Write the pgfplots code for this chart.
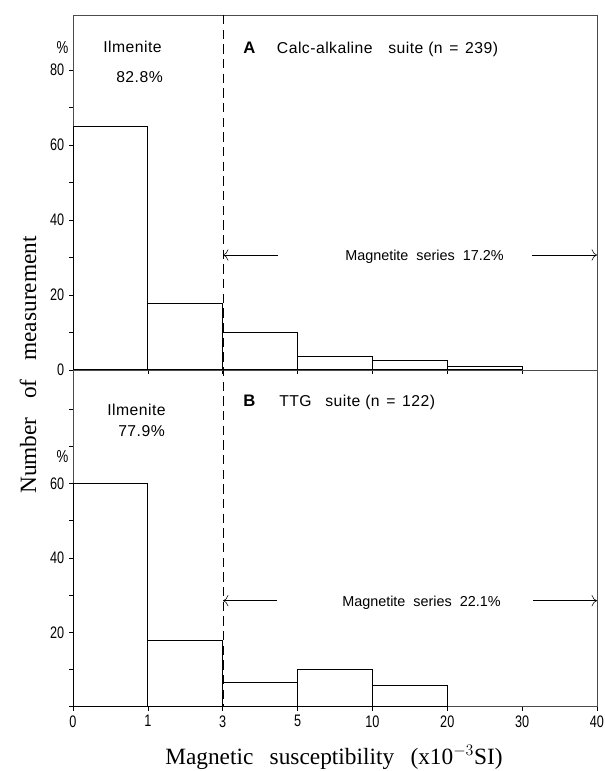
\documentclass[border=0pt]{standalone}
\usepackage{pgfplots}
\pgfplotsset{compat=1.18}
\usepackage{fontspec}
\setmainfont{Liberation Serif}
\newfontfamily\tsans[FakeStretch=0.76]{Liberation Sans}
\newfontfamily\asans{Liberation Sans}
\newfontfamily\lsans[LetterSpace=3]{Liberation Sans}
\usetikzlibrary{arrows.meta}
\newcommand{\ann}{\asans\fontsize{10.8}{12}\selectfont}
\newcommand{\lann}{\lsans\fontsize{11.8}{12}\selectfont}
\begin{document}
\begin{tikzpicture}[x=0.75pt,y=0.75pt]
\useasboundingbox (0,0) rectangle (605,771);
\pgfplotsset{hist/.style={scale only axis, width=393pt, xmin=0, xmax=7, ymin=0,
  xtick={0,...,7}, tick pos=left, tick align=outside, major tick length=3pt,
  ytick={0,10,...,80},
  axis line style={black!70,line width=0.45pt},
  tick style={black,line width=0.45pt},
  ticklabel style={font=\tsans\fontsize{12.5}{13}\selectfont},
  anchor=south west}}
% Panel A
\begin{axis}[hist, at={(54.75pt,300.75pt)}, height=266.25pt, ymax=94.7,
  xticklabels={}, yticklabels={0,,20,,40,,60,,80}]
\addplot[ybar interval, draw=black, fill=white, line width=0.9pt]
  coordinates {(0,65)(1,17.8)(2,10)(3,3.6)(4,2.6)(5,1.0)(6,0)};
\end{axis}
% Panel B
\begin{axis}[hist, at={(54.75pt,48.225pt)}, height=252.5pt, ymax=90.5,
  xticklabels={0,1,3,5,10,20,30,40}, yticklabels={,,20,,40,,60,,}]
\addplot[ybar interval, draw=black, fill=white, line width=0.9pt]
  coordinates {(0,60)(1,17.9)(2,6.6)(3,9.9)(4,5.6)(5,0)};
\end{axis}
% dashed divider
\draw[dash pattern=on 7pt off 4pt, line width=0.5pt] (223,756) -- (223,64.3);
% Panel A annotations
\node[anchor=base west, inner sep=0pt] at (243,717.7) {\asans\bfseries\fontsize{12.5}{12}\selectfont A};
\node[anchor=base west, inner sep=0pt] at (276.7,717.7) {\lann Calc-alkaline};
\node[anchor=base west, inner sep=0pt] at (388,717.7) {\lann suite};
\node[anchor=base west, inner sep=0pt] at (428,717.7) {\lann (n\hspace{5pt}=\hspace{5pt}239)};
\node[anchor=base west, inner sep=0pt] at (103,718) {\lann Ilmenite};
\node[anchor=base west, inner sep=0pt] at (116,688) {\lann 82.8\%};
\node[inner sep=0pt] at (62.5,723) {\tsans\fontsize{13}{13}\selectfont\%};
\draw[-{To[length=4pt]}, line width=0.4pt] (278,516) -- (223,516);
\draw[-{To[length=4pt]}, line width=0.4pt] (532,516) -- (597,516);
\node[anchor=base west, inner sep=0pt] at (345,510.3) {\ann Magnetite\ \ series\ \ 17.2\%};
% Panel B annotations
\node[anchor=base west, inner sep=0pt] at (243,364.3) {\asans\bfseries\fontsize{12.5}{12}\selectfont B};
\node[anchor=base west, inner sep=0pt] at (279,364.3) {\lann TTG};
\node[anchor=base west, inner sep=0pt] at (325,364.3) {\lann suite};
\node[anchor=base west, inner sep=0pt] at (365,364.3) {\lann (n\hspace{5pt}=\hspace{5pt}122)};
\node[anchor=base west, inner sep=0pt] at (107,355.3) {\lann Ilmenite};
\node[anchor=base west, inner sep=0pt] at (118,334.3) {\lann 77.9\%};
\node[inner sep=0pt] at (62.5,314) {\tsans\fontsize{13}{13}\selectfont\%};
\draw[-{To[length=4pt]}, line width=0.4pt] (277,170.3) -- (223,170.3);
\draw[-{To[length=4pt]}, line width=0.4pt] (533,170.3) -- (597,170.3);
\node[anchor=base west, inner sep=0pt] at (342,164) {\ann Magnetite\ \ series\ \ 22.1\%};
% axis titles
\node[rotate=90, inner sep=0pt] at (28,406) {\fontsize{17.5}{20}\selectfont Number\hspace{0.8em}of\hspace{0.8em}measurement};
\node[anchor=base, inner sep=0pt] at (334,7) {\fontsize{17.5}{20}\selectfont Magnetic\hspace{0.7em}susceptibility\hspace{0.7em}(x10$^{-3}$SI)};
\end{tikzpicture}
\end{document}
